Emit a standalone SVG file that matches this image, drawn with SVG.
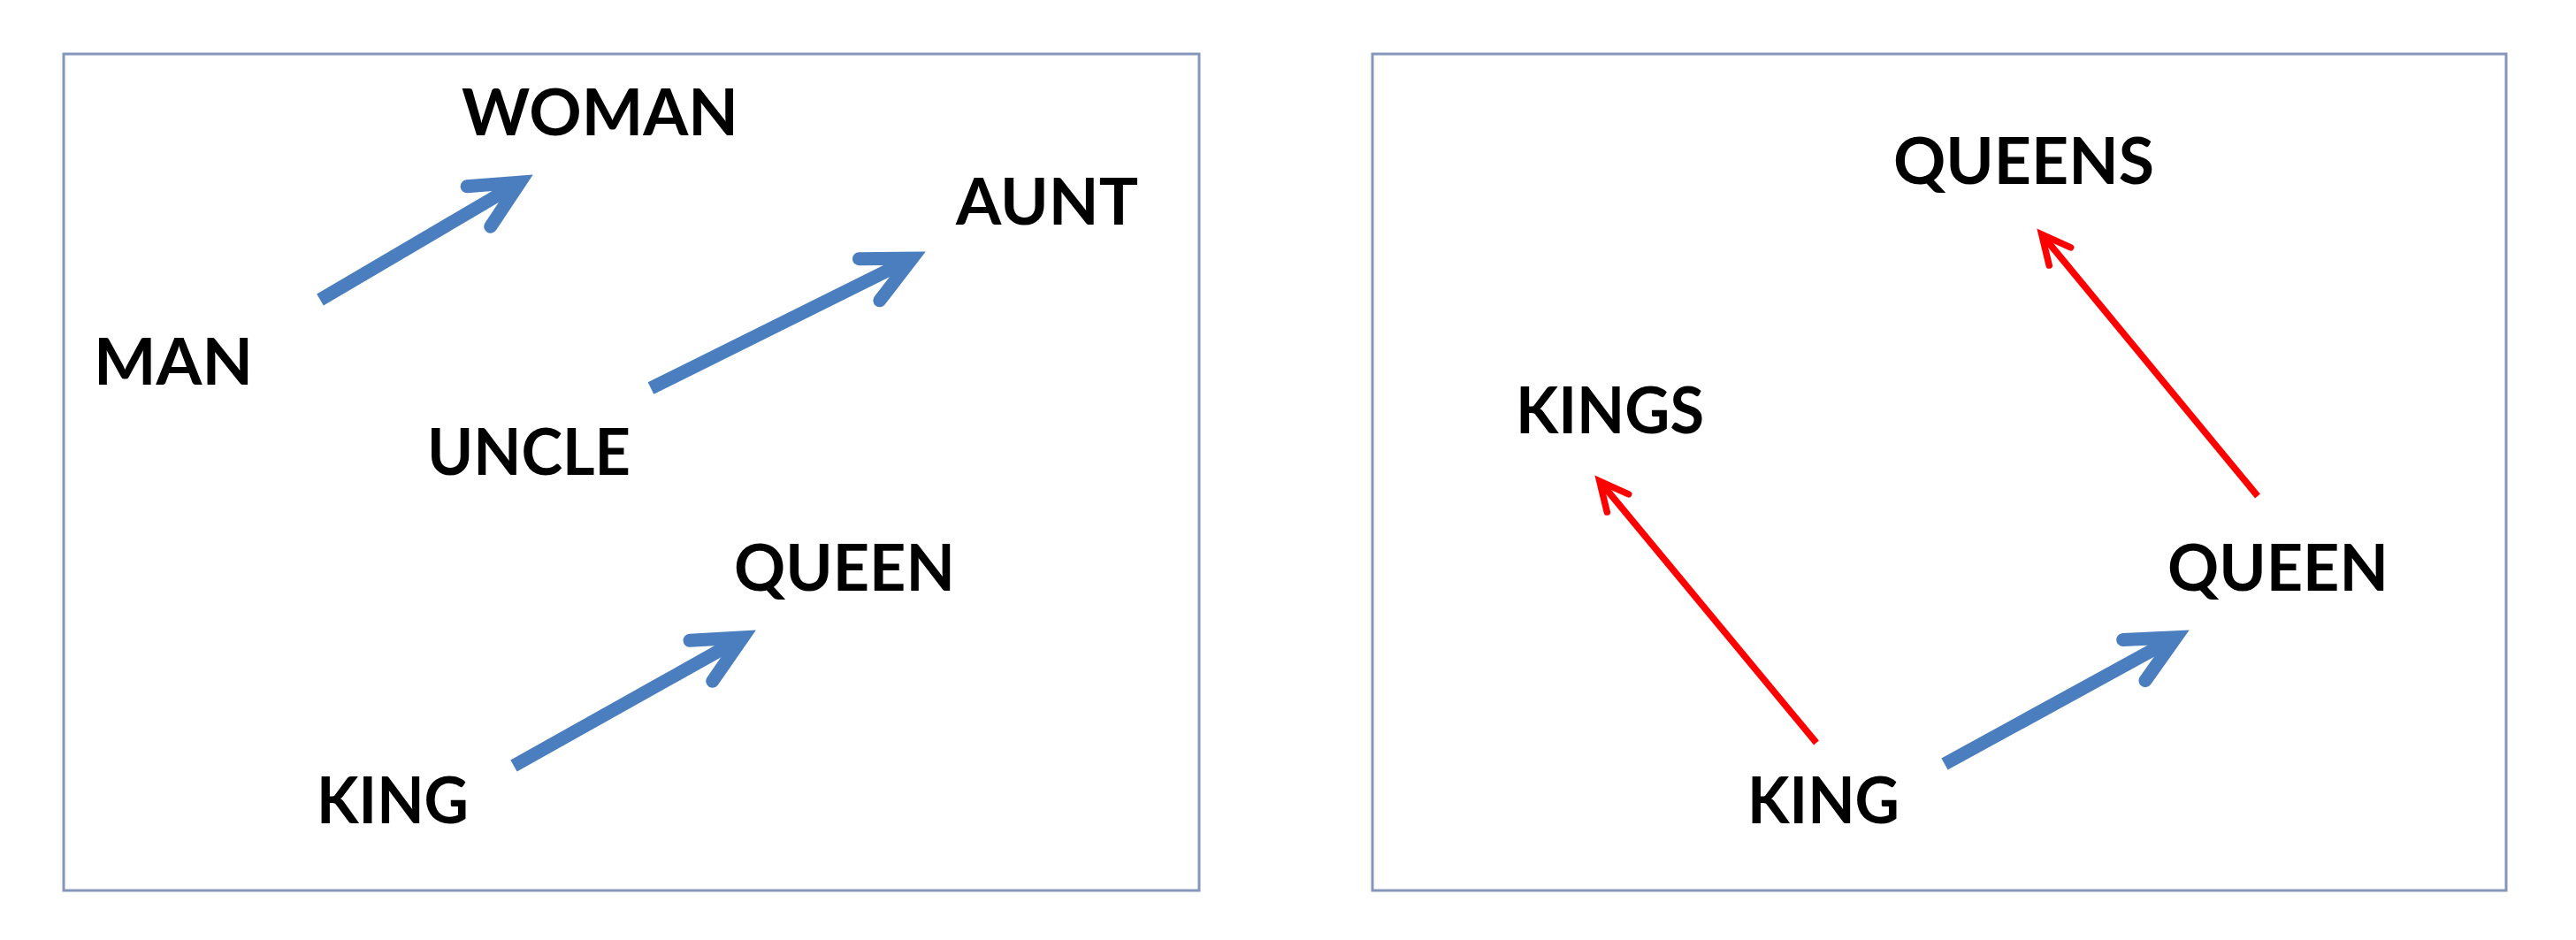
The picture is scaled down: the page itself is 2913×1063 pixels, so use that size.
<svg xmlns="http://www.w3.org/2000/svg" width="2913" height="1063" viewBox="0 0 2913 1063">
  <style>
    .panel { fill: #ffffff; stroke: #8497bb; stroke-width: 3; }
    .lbl { font-family: Lato, "Open Sans", "Liberation Sans", sans-serif; font-weight: 700; font-size: 72px; fill: #000000; }
    .blue { fill: none; stroke: #4a7ebf; stroke-width: 15; stroke-linecap: butt; }
    .red { fill: none; stroke: #ff0000; stroke-width: 7.5; stroke-linecap: butt; }
  </style>
  <defs>
    <marker id="headBlue" markerUnits="userSpaceOnUse" orient="auto" refX="0" refY="0" markerWidth="10" markerHeight="10" overflow="visible">
      <path d="M-54,-26.3 L0,0 L-54,26.3" fill="none" stroke="#4a7ebf" stroke-width="15" stroke-linecap="round" stroke-linejoin="miter"/>
    </marker>
    <marker id="headRed" markerUnits="userSpaceOnUse" orient="auto" refX="0" refY="0" markerWidth="10" markerHeight="10" overflow="visible">
      <path d="M-32.4,-15.8 L0,0 L-32.4,15.8" fill="none" stroke="#ff0000" stroke-width="7.5" stroke-linecap="round" stroke-linejoin="miter"/>
    </marker>
  </defs>
  <rect x="0" y="0" width="2913" height="1063" fill="#ffffff"/>
  <g id="panel-left">
    <rect class="panel" x="72" y="61" width="1284" height="946"/>
  </g>
  <g id="panel-right">
    <rect class="panel" x="1552" y="61" width="1282" height="946"/>
  </g>
  <g id="connectors">
    <line class="blue" x1="362" y1="339" x2="588" y2="206.1" marker-end="url(#headBlue)"/>
    <line class="blue" x1="736" y1="439" x2="1031.5" y2="292.2" marker-end="url(#headBlue)"/>
    <line class="blue" x1="581" y1="866" x2="840" y2="720.9" marker-end="url(#headBlue)"/>
    <line class="blue" x1="2199" y1="864" x2="2460.7" y2="720.7" marker-end="url(#headBlue)"/>
    <line class="red" x1="2553" y1="561" x2="2308.8" y2="265" marker-end="url(#headRed)"/>
    <line class="red" x1="2054" y1="840" x2="1808.8" y2="544" marker-end="url(#headRed)"/>
  </g>
  <g id="node-woman"><text class="lbl" x="522" y="153" textLength="313" lengthAdjust="spacingAndGlyphs">WOMAN</text></g>
  <g id="node-aunt"><text class="lbl" x="1081" y="254" textLength="206" lengthAdjust="spacingAndGlyphs">AUNT</text></g>
  <g id="node-man"><text class="lbl" x="106" y="435" textLength="180" lengthAdjust="spacingAndGlyphs">MAN</text></g>
  <g id="node-uncle"><text class="lbl" x="483" y="537" textLength="230" lengthAdjust="spacingAndGlyphs">UNCLE</text></g>
  <g id="node-queen-left"><text class="lbl" x="830" y="668" textLength="250" lengthAdjust="spacingAndGlyphs">QUEEN</text></g>
  <g id="node-king-left"><text class="lbl" x="358" y="931" textLength="172" lengthAdjust="spacingAndGlyphs">KING</text></g>
  <g id="node-queens"><text class="lbl" x="2141" y="208" textLength="295" lengthAdjust="spacingAndGlyphs">QUEENS</text></g>
  <g id="node-kings"><text class="lbl" x="1714" y="490" textLength="213" lengthAdjust="spacingAndGlyphs">KINGS</text></g>
  <g id="node-queen-right"><text class="lbl" x="2451" y="668" textLength="250" lengthAdjust="spacingAndGlyphs">QUEEN</text></g>
  <g id="node-king-right"><text class="lbl" x="1976" y="931" textLength="172" lengthAdjust="spacingAndGlyphs">KING</text></g>
</svg>
